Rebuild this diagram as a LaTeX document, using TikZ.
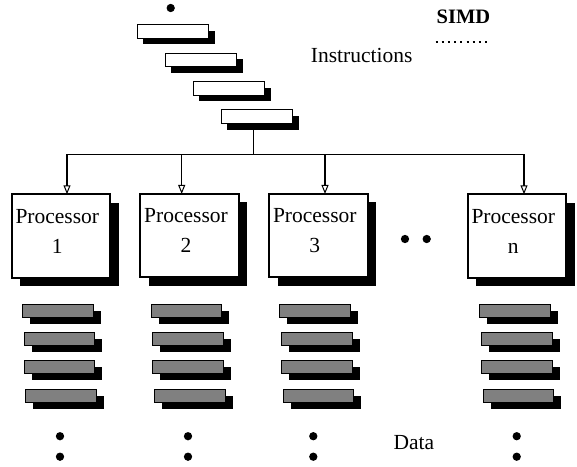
\documentclass[tikz,border=0pt]{standalone}
\usepackage{fontspec}
\setmainfont{Liberation Serif}
\usetikzlibrary{arrows.meta,shadows}
\definecolor{barfill}{HTML}{808080}
\begin{document}
\begin{tikzpicture}[x=1pt,y=-1pt,
  bigfont/.style={font=\fontsize{21.5}{30}\selectfont},
  instr/.style={draw=black, line width=1.1pt, fill=white,
    minimum width=71.2pt, minimum height=13.6pt, inner sep=0pt, outer sep=0pt,
    general shadow={fill=black, shadow xshift=6pt, shadow yshift=-6pt}},
  databar/.style={draw=black, line width=1.1pt, fill=barfill,
    minimum width=70.6pt, minimum height=12.9pt, inner sep=0pt, outer sep=0pt,
    general shadow={fill=black, shadow xshift=7.5pt, shadow yshift=-6.5pt}},
  procbox/.style={draw=black, line width=2pt, fill=white,
    minimum width=98.5pt, minimum height=83.5pt, inner sep=0pt, outer sep=0pt,
    general shadow={fill=black, shadow xshift=8.5pt, shadow yshift=-8.5pt}},
  proctext/.style={bigfont, align=center, inner sep=0pt, anchor=north},
  blob/.style={circle, fill=black, minimum size=8.3pt, inner sep=0pt},
  wire/.style={line width=1.2pt},
  feed/.style={line width=1.2pt, -{Triangle[open, length=9pt, width=7pt, line width=1pt]}},
]
\useasboundingbox (0,0) rectangle (577,466);

% instruction stream
\node[blob] (topdot) at (170.7,8) {};
\foreach \k in {1,...,4} {
  \node[instr] (i\k) at ({172.9+28*(\k-1)},{31.5+28.4*(\k-1)}) {};
}
\node[bigfont, anchor=base] (instrlabel) at (361.7,62.7) {Instructions};

% title
\node[font=\fontsize{20.5}{24}\selectfont\bfseries, anchor=base] (simd) at (463.4,23.3) {SIMD};
\coordinate (dotsL) at (435.5,41.5);
\coordinate (dotsR) at (491,41.5);
\draw[line width=2pt, dash pattern=on 2pt off 4.2pt] (dotsL) -- (dotsR);

% processors
\node[procbox] (p1) at (60.8,236) {};
\node[procbox] (p2) at (189.5,235.7) {};
\node[procbox] (p3) at (318.3,235.7) {};
\node[procbox] (pn) at (516.8,236) {};
\foreach \p/\lab in {p1/1, p2/2, p3/3, pn/n} {
  \node[proctext] (\p text) at ([shift={(-3.5,14.6)}]\p.north) {Processor\\\lab};
}
\node[blob] (gap1) at (405,239) {};
\node[blob] (gap2) at (426.7,239) {};

% broadcast bus
\coordinate (a1) at (67,154.3);
\coordinate (a2) at (181.7,154.3);
\coordinate (a3) at (325,154.3);
\coordinate (an) at (524,154.3);
\coordinate (tap) at (253.7,154.3);
\draw[wire] (i4.south -| tap) -- (tap);
\draw[wire] (a1) -- (an);
\draw[feed] (a1) -- (a1 |- p1.north);
\draw[feed] (a2) -- (a2 |- p2.north);
\draw[feed] (a3) -- (a3 |- p3.north);
\draw[feed] (an) -- (an |- pn.north);

% data streams
\foreach \c/\dx/\dotx in {1/0/60, 2/128.7/188, 3/257.3/313.3, n/457.3/516.7} {
  \node[databar] (d\c-1) at ({57.9+\dx},311.3) {};
  \node[databar] (d\c-2) at ({59.5+\dx},339) {};
  \node[databar] (d\c-3) at ({59.5+\dx},366.8) {};
  \node[databar] (d\c-4) at ({61.2+\dx},395.8) {};
  \node[blob] (e\c-1) at (\dotx,436.2) {};
  \node[blob] (e\c-2) at (\dotx,456.7) {};
}
\node[bigfont, anchor=base] (datalabel) at (413.8,449.3) {Data};
\end{tikzpicture}
\end{document}
